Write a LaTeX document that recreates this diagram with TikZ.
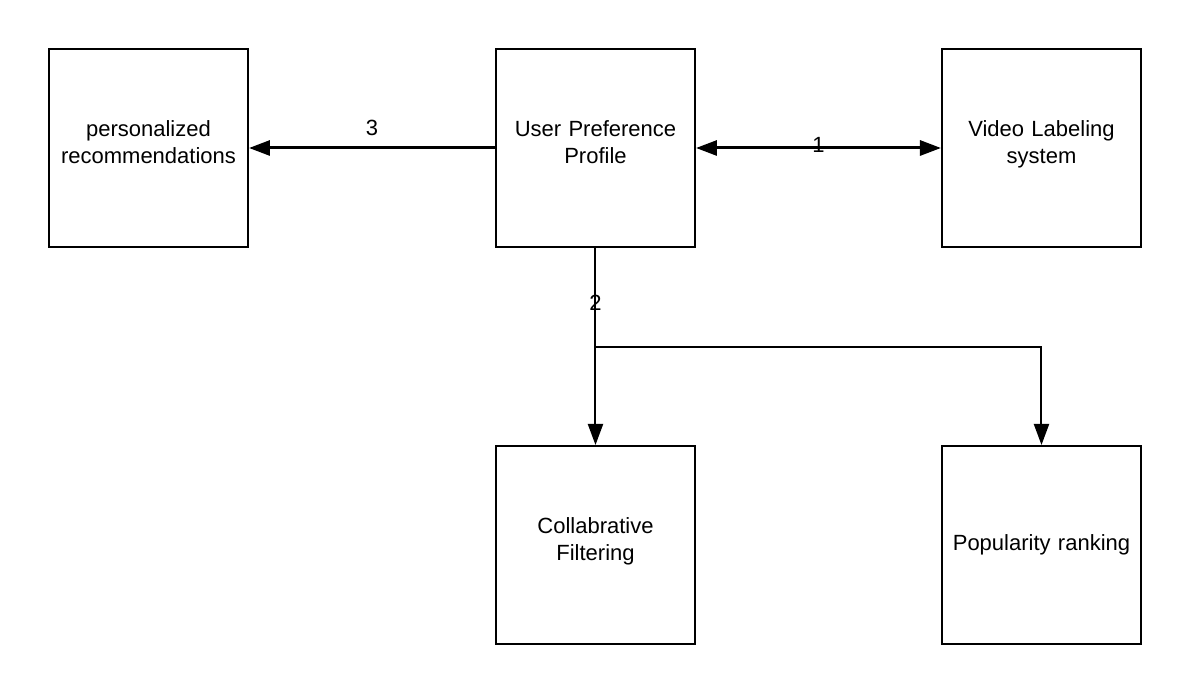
\documentclass[tikz,border=0pt]{standalone}
\usepackage{fontspec}
\setmainfont{Liberation Sans}
\usetikzlibrary{arrows.meta, positioning, calc}
\tikzset{
    base/.style={
        draw,
        line width=1pt,
        minimum width=99.5pt,
        minimum height=99pt,
        text width=95pt,
        align=center,
        font=\fontsize{11}{13.5}\selectfont,
        inner sep=0pt
    },
    stacked/.style={base, text depth=19pt},
    arrow/.style={-{Triangle[length=10.5pt,width=7.5pt]}, line width=1pt},
    twoway/.style={{Triangle[length=10.5pt,width=7.5pt]}-{Triangle[length=10.5pt,width=7.5pt]}, line width=1.5pt},
    step label/.style={font=\fontsize{11}{13.5}\selectfont, inner sep=0pt}
}
\begin{document}
\begin{tikzpicture}[node distance=98.5pt and 123pt]
        \useasboundingbox (-297.75pt,74pt) rectangle (297.75pt,-273.5pt);

        \node[stacked] (profile) at (0,0) {User Preference\\Profile};
        \node[stacked, left=of profile] (recs) {personalized\\recommendations};
        \node[stacked, right=122.5pt of profile] (labeling) {Video Labeling\\system};
        \node[stacked, below=of profile] (filtering) {Collabrative\\Filtering};
        \node[base, below=of labeling] (ranking) {Popularity ranking};

        \coordinate[below=49.5pt of profile] (split);

        \draw[arrow, line width=1.5pt] (profile) -- node[step label, above=5.5pt]{3} (recs);
        \draw[twoway] (profile) -- node[step label, yshift=1.5pt]{1} (labeling);
        \draw[line width=1pt] (profile) -- node[step label, pos=0.55]{2} (split);
        \draw[arrow] (split) -- (filtering);
        \draw[arrow] (split) -| (ranking);

        \end{tikzpicture}
\end{document}
